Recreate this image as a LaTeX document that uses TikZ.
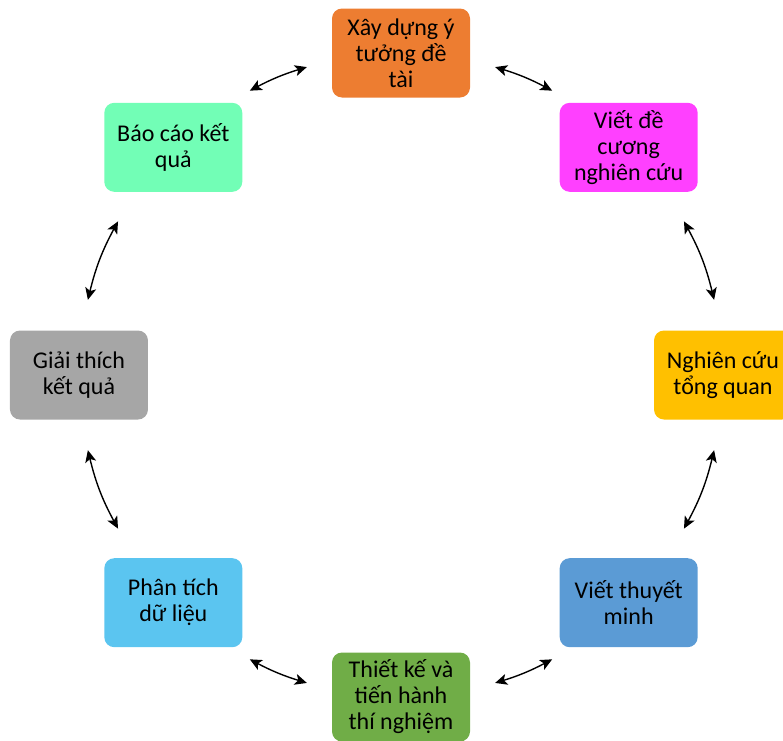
\documentclass[tikz,border=0pt]{standalone}
\usepackage{fontspec}
\setmainfont{Carlito}
\usepackage{xcolor}
\usepackage{tikz}
\usetikzlibrary{arrows.meta}
\definecolor{cam}{HTML}{ED7D31}
\definecolor{hong}{HTML}{FF40FF}
\definecolor{vang}{HTML}{FFC000}
\definecolor{lam}{HTML}{5B9BD5}
\definecolor{luc}{HTML}{70AD47}
\definecolor{troi}{HTML}{5BC5F0}
\definecolor{xam}{HTML}{A6A6A6}
\definecolor{bacha}{HTML}{72FEB6}
\tikzset{buoc/.style={rectangle,rounded corners=10pt,minimum width=138pt,minimum height=89pt,align=center,font=\fontsize{24}{26}\selectfont}}

\begin{document}
\begin{tikzpicture}[x=1pt,y=1pt]
		\useasboundingbox (-401,-365) rectangle (382,375);
		\node[buoc,fill=cam] (XD) at (90:322) {Xây dựng ý\\tưởng đề\\tài};
		\node[buoc,fill=hong] (VD) at (45:322) {Viết đề\\cương\\nghiên cứu};
		\node[buoc,fill=vang] (NC) at (0:322) {Nghiên cứu\\tổng quan};
		\node[buoc,fill=lam] (VT) at (-45:322) {Viết thuyết\\minh};
		\node[buoc,fill=luc] (TK) at (-90:322) {Thiết kế và\\tiến hành\\thí nghiệm};
		\node[buoc,fill=troi] (PT) at (-135:322) {Phân tích\\dữ liệu};
		\node[buoc,fill=xam] (GT) at (180:322) {Giải thích\\kết quả};
		\node[buoc,fill=bacha] (BC) at (135:322) {Báo cáo kết\\quả};
		%
		\coordinate (x1) at (73:322);
		\coordinate (x1') at (62:322);
		\coordinate (x2) at (28.5:322);
		\coordinate (x2') at (13.5:322);
		\coordinate (x3) at (-13.5:322);
		\coordinate (x3') at (-28.5:322);
		\coordinate (x4) at (-62:322);
		\coordinate (x4') at (-73:322);
		\coordinate (x5) at (-107:322);
		\coordinate (x5') at (-118:322);
		\coordinate (x6) at (-151.5:322);
		\coordinate (x6') at (-166.5:322);
		\coordinate (x7) at (166.5:322);
		\coordinate (x7') at (151.5:322);
		\coordinate (x8) at (118:322);
		\coordinate (x8') at (107:322);
		%
		\path[<->,line width=1.4pt,>={Stealth[length=12pt,width=11pt,inset=3pt]}]
		% top and bottom arrows
		(x1) edge[bend left=5.5] (x1')
		(x4) edge[bend left=5.5] (x4')
		(x5) edge[bend left=5.5] (x5')
		(x8) edge[bend left=5.5] (x8')
		% side arrows
		(x2) edge[bend left=7.5] (x2')
		(x3) edge[bend left=7.5] (x3')
		(x6) edge[bend left=7.5] (x6')
		(x7) edge[bend left=7.5] (x7');
\end{tikzpicture}
\end{document}
